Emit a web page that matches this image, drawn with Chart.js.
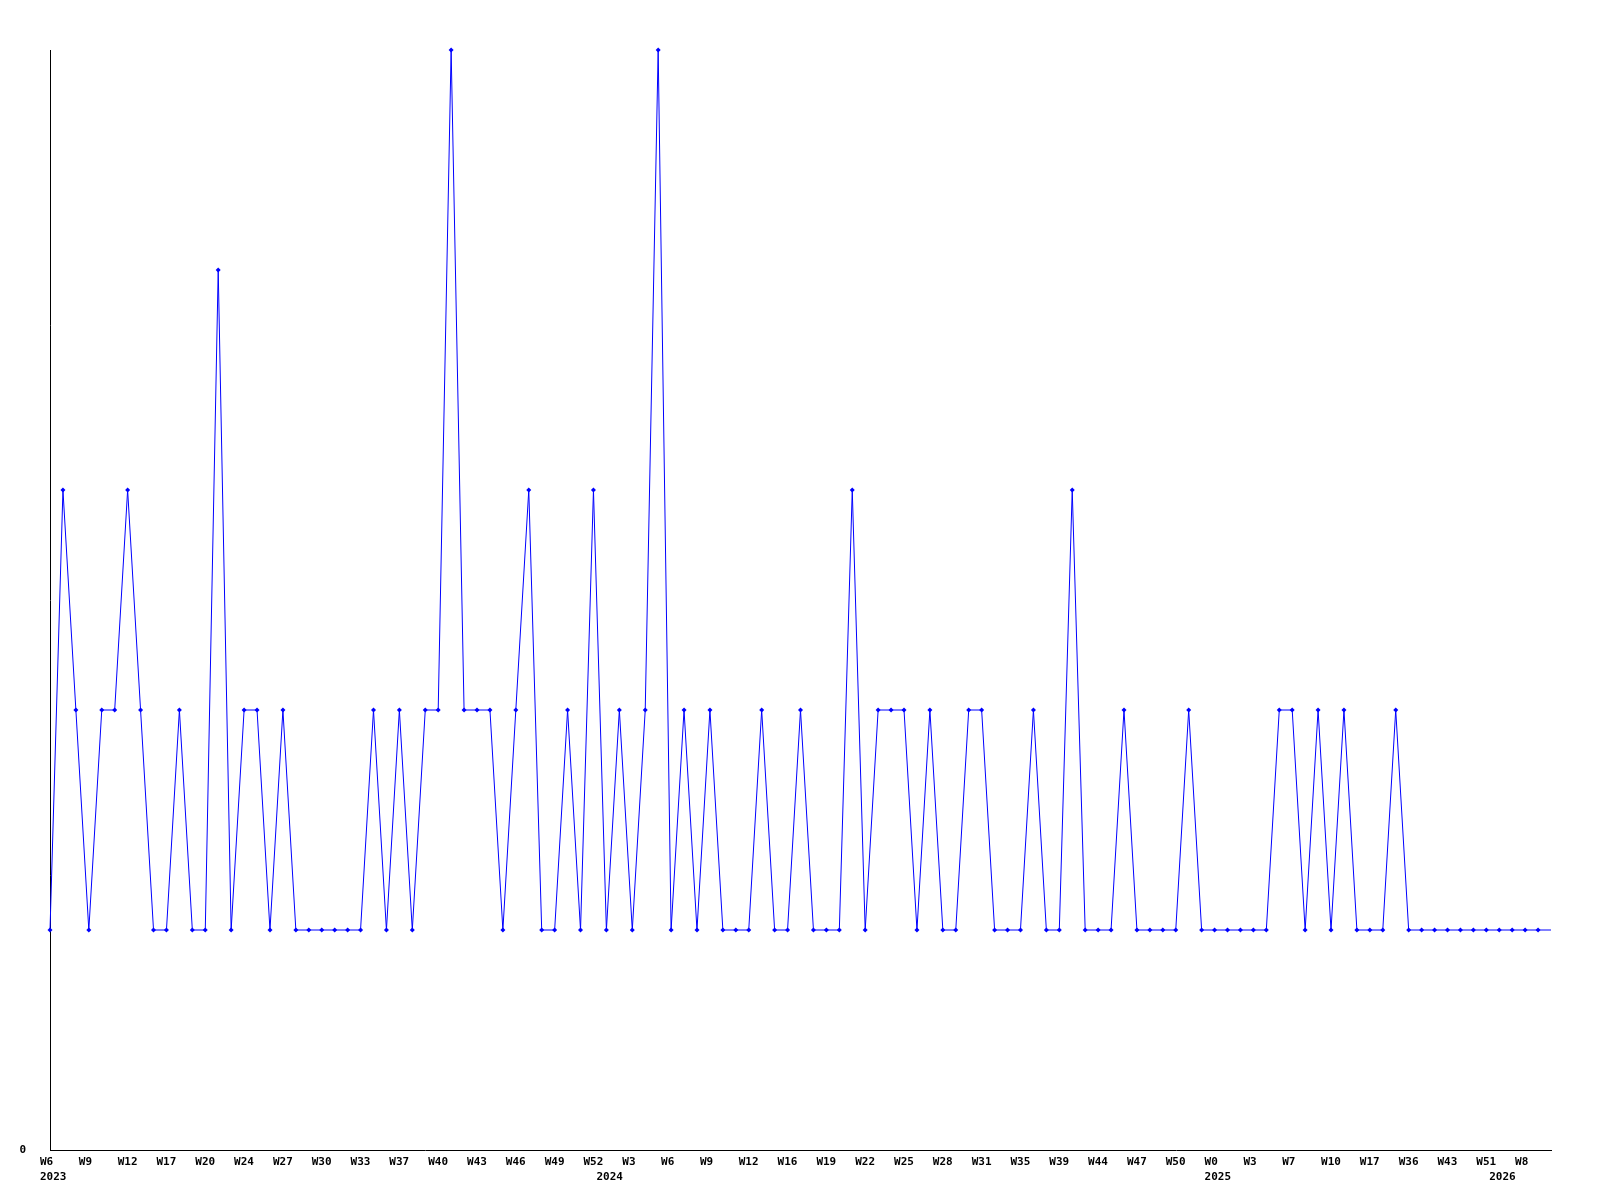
<!DOCTYPE html>
<html>
<head>
<meta charset="utf-8">
<script src="https://cdn.jsdelivr.net/npm/chart.js@4/dist/chart.umd.min.js"></script>
<style>
html,body{margin:0;padding:0;background:#fff;}
#wrap{width:1600px;height:1200px;}
</style>
</head>
<body>
<div id="wrap"><canvas id="c" width="1600" height="1200"></canvas></div>
<script>
// Weekly values (one per category point)
const values = [
  1,3,2,1,2,2,3,2,1,1,
  2,1,1,4,1,2,2,1,2,1,
  1,1,1,1,1,2,1,2,1,2,
  2,5,2,2,2,1,2,3,1,1,
  2,1,3,1,2,1,2,5,1,2,
  1,2,1,1,1,2,1,1,2,1,
  1,1,3,1,2,2,2,1,2,1,
  1,2,2,1,1,1,2,1,1,3,
  1,1,1,2,1,1,1,1,2,1,
  1,1,1,1,1,2,2,1,2,1,
  2,1,1,1,2,1,1,1,1,1,
  1,1,1,1,1,1
];
// Week tick labels shown every third point
const weekTicks = ['W6','W9','W12','W17','W20','W24','W27','W30','W33','W37','W40','W43','W46','W49','W52',
  'W3','W6','W9','W12','W16','W19','W22','W25','W28','W31','W35','W39','W44','W47','W50',
  'W0','W3','W7','W10','W17','W36','W43','W51','W8'];
const tickEvery = 3;
// Year labels and the point index where each year starts
const yearTicks = ['2023','2024','2025','2026'];
const yearAt = [0,43,90,112];
const yTicks = ['0'];

// the current value continues to the end of the axis
const series = values.concat([values[values.length-1]]);
const labels = series.map((v,i)=>String(i));

Chart.defaults.font.family = "'DejaVu Sans Mono', monospace";
Chart.defaults.font.size = 11;
Chart.defaults.font.weight = 'bold';
Chart.defaults.color = '#000';

function tickLabel(i){
  let wk = (i % tickEvery === 0 && weekTicks[i/tickEvery] !== undefined) ? weekTicks[i/tickEvery] : '';
  const yi = yearAt.indexOf(i);
  const yr = yi >= 0 ? yearTicks[yi] : '';
  if (!wk && !yr) return '';
  return [wk, yr];
}

new Chart(document.getElementById('c'), {
  type: 'line',
  data: {
    labels: labels,
    datasets: [{
      data: series,
      borderColor: '#0000ff',
      backgroundColor: '#0000ff',
      borderWidth: 1,
      pointStyle: 'rectRot',
      pointRadius: (ctx) => ctx.dataIndex >= values.length ? 0 : 2.5,
      pointBorderWidth: 0,
      pointHoverRadius: 0,
      tension: 0,
      fill: false,
      clip: false
    }]
  },
  options: {
    responsive: false,
    animation: false,
    events: [],
    layout: { padding: { top: 50, right: 49, left: 0, bottom: 0 } },
    plugins: { legend: { display: false }, tooltip: { enabled: false } },
    scales: {
      x: {
        type: 'category',
        offset: false,
        grid: { display: false, drawTicks: false },
        border: { display: true, color: '#000', width: 1 },
        ticks: {
          autoSkip: false,
          maxRotation: 0,
          minRotation: 0,
          align: 'start',
          labelOffset: -10,
          padding: 5,
          font: { lineHeight: 1.34 },
          callback: function(val, i){ return tickLabel(i); }
        },
        afterFit: (s) => { s.height = 50; }
      },
      y: {
        min: 0,
        max: 5,
        grid: { display: false, drawTicks: false },
        border: { display: true, color: '#000', width: 1 },
        ticks: {
          stepSize: 5,
          padding: 24,
          callback: (v) => v === 0 ? yTicks[0] : ''
        },
        afterFit: (s) => { s.width = 50; }
      }
    }
  }
});
</script>
</body>
</html>
